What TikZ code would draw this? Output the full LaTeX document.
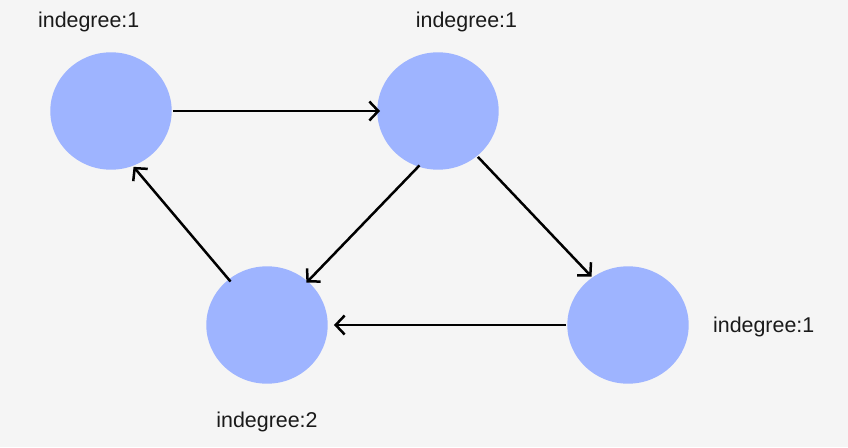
\documentclass[tikz,border=0pt]{standalone}
\usepackage{fontspec}
\setmainfont{Liberation Sans}
\usetikzlibrary{arrows.meta,shapes.geometric}

\definecolor{vertexblue}{RGB}{158,180,255}
\definecolor{paper}{RGB}{245,245,245}
\definecolor{inkgray}{RGB}{26,26,26}

\begin{document}
\begin{tikzpicture}[x=1pt,y=-1pt,>={Straight Barb[length=9pt,width=19pt]},
		line width=2.5pt,
		main node/.style={ellipse,fill=vertexblue,minimum width=121.4pt,minimum height=117.4pt,inner sep=0pt},
		deg label/.style={anchor=base,text=inkgray,font=\fontsize{21.4}{24}\selectfont}]
		\fill[paper] (0,0) rectangle (848,447);
		\useasboundingbox (0,0) rectangle (848,447);
		\node[main node] (1) at (111,111) {};
		\node[main node] (2) at (438,111) {};
		\node[main node] (3) at (267,325) {};
		\node[main node] (4) at (628,325) {};
		\node[deg label] (l1) at (88.7,27.3) {indegree:1};
		\node[deg label] (l2) at (466.5,27.3) {indegree:1};
		\node[deg label] (l3) at (267,427.3) {indegree:2};
		\node[deg label] (l4) at (763.7,332.7) {indegree:1};
		\draw[->,shorten >=-4pt] (1.0) -- (2.180);
		\draw[->,shorten <=-3pt,shorten >=-3pt] (2.250) -- (3.47);
		\draw[->] (2.311) -- (4.127);
		\draw[->,shorten >=5pt] (4.180) -- (3.0);
		\draw[->,shorten <=-4pt] (3.130) -- (1.292);
		\end{tikzpicture}
\end{document}
